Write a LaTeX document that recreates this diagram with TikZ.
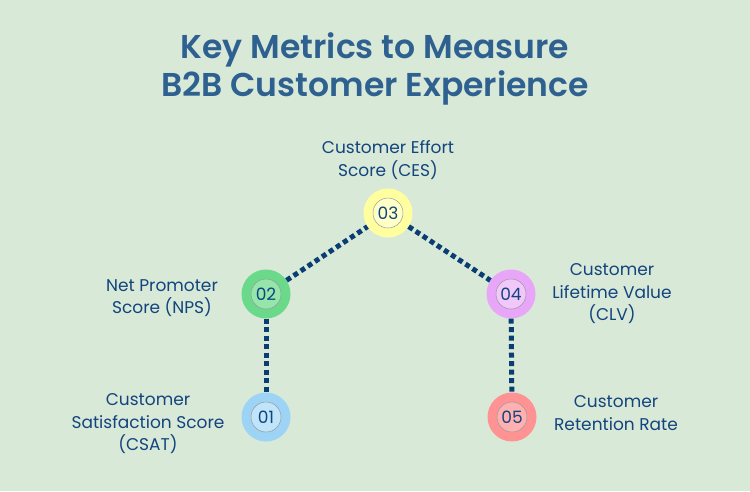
\documentclass[tikz,border=0pt]{standalone}
\usepackage{fontspec}
\setmainfont{Poppins}
\newfontfamily\titlefont{Poppins SemiBold}
\definecolor{bg}{HTML}{D9E9D7}
\definecolor{navy}{HTML}{0A3D73}
\definecolor{txt}{HTML}{12447E}
\definecolor{ttl}{HTML}{2E6190}
\definecolor{yo}{HTML}{FFFFA0}\definecolor{yi}{HTML}{FFFFC8}
\definecolor{go}{HTML}{6AD98A}\definecolor{gi}{HTML}{94E6AA}
\definecolor{po}{HTML}{E8A6F8}\definecolor{pi}{HTML}{F1C8FA}
\definecolor{bo}{HTML}{9DD3F5}\definecolor{bi}{HTML}{C0E4FA}
\definecolor{ro}{HTML}{FF9393}\definecolor{ri}{HTML}{FFB0B0}
\tikzset{
  outerc/.style={circle,minimum size=49pt,inner sep=0pt},
  innerc/.style={circle,minimum size=30pt,inner sep=0pt,draw=gray!80,line width=0.5pt,text=txt,font=\fontsize{17}{17}\selectfont},
  conn/.style={draw=navy,line width=5pt,dash pattern=on 5pt off 3.5pt},
  lbl/.style={text=txt,align=center,font=\fontsize{17}{22.5}\selectfont}
}
\begin{document}
\begin{tikzpicture}[x=1pt,y=-1pt]
\fill[bg] (0,0) rectangle (750,491);
\useasboundingbox (0,0) rectangle (750,491);
\node[text=ttl,align=center,font=\titlefont\fontsize{33}{38}\selectfont] (title) at (375,69) {Key Metrics to Measure\\B2B Customer Experience};
% circles
\node[outerc,fill=yo] (c3) at (388,213) {};
\node[outerc,fill=go] (c2) at (266,294) {};
\node[outerc,fill=po] (c4) at (511,294) {};
\node[outerc,fill=bo] (c1) at (266,417) {};
\node[outerc,fill=ro] (c5) at (512,417) {};
% connectors
\path[conn] (c2) -- (c3);
\path[conn] (c3) -- (c4);
\path[conn] (c2) -- (c1);
\path[conn] (c4) -- (c5);
\node[innerc,fill=yi] (i3) at (c3) {03};
\node[innerc,fill=gi] (i2) at (c2) {02};
\node[innerc,fill=pi] (i4) at (c4) {04};
\node[innerc,fill=bi] (i1) at (c1) {01};
\node[innerc,fill=ri] (i5) at (c5) {05};
% labels
\node[lbl] (l3) at (388,160) {Customer Effort\\Score (CES)};
\node[lbl] (l2) at (162,298) {Net Promoter\\Score (NPS)};
\node[lbl] (l4) at (612,294) {Customer\\Lifetime Value\\(CLV)};
\node[lbl] (l1) at (148,424) {Customer\\Satisfaction Score\\(CSAT)};
\node[lbl] (l5) at (616,413) {Customer\\Retention Rate};
\end{tikzpicture}
\end{document}
